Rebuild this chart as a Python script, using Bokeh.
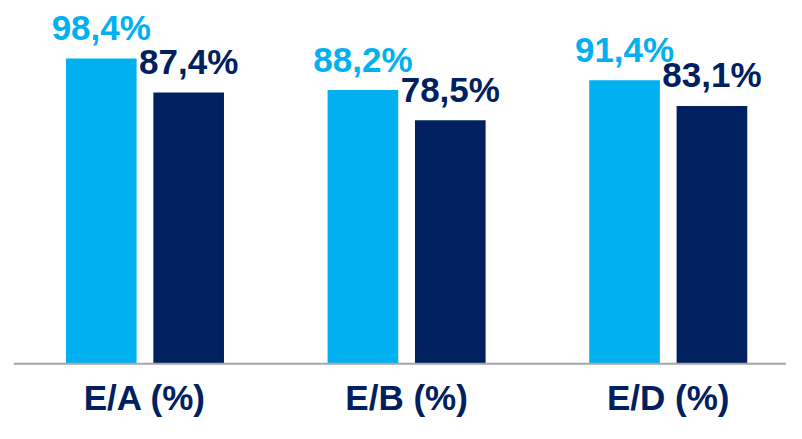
from bokeh.plotting import figure
from bokeh.models import ColumnDataSource, Range1d, Span
from bokeh.transform import dodge
from bokeh.core.properties import value
from bokeh.embed import file_html
from bokeh.resources import INLINE

categories = ["E/A (%)", "E/B (%)", "E/D (%)"]
series_a = [98.4, 88.2, 91.4]
series_b = [87.4, 78.5, 83.1]
labels_a = ["98,4%", "88,2%", "91,4%"]
labels_b = ["87,4%", "78,5%", "83,1%"]

LIGHT = "#00B0F0"
DARK = "#002060"
FONT = "Liberation Sans"

xs = list(range(len(categories)))
src = ColumnDataSource(dict(x=xs, a=series_a, b=series_b, la=labels_a, lb=labels_b,
                            cat=categories, zero=[0] * len(xs)))

p = figure(width=786, height=423, output_backend="svg", toolbar_location=None,
           x_range=Range1d(-0.5025, 2.452), y_range=Range1d(-19.24, 117.08),
           min_border_left=13, min_border_right=0, min_border_top=0, min_border_bottom=0)
p.axis.visible = False
p.grid.visible = False
p.outline_line_color = None

p.vbar(x=dodge("x", -0.167, range=p.x_range), top="a", width=0.27, bottom=0,
       source=src, color=LIGHT, line_color=None)
p.vbar(x=dodge("x", 0.167, range=p.x_range), top="b", width=0.27, bottom=0,
       source=src, color=DARK, line_color=None)

p.add_layout(Span(location=0, dimension="width", line_color="#A6A6A6", line_width=2))

p.text(x=dodge("x", -0.167, range=p.x_range), y="a", text="la", source=src,
       text_align="center", text_baseline="alphabetic", y_offset=-31,
       text_font=value(FONT), text_font_style="bold", text_font_size="35px",
       text_color=LIGHT)
p.text(x=dodge("x", 0.167, range=p.x_range), y="b", text="lb", source=src,
       text_align="center", text_baseline="alphabetic", y_offset=-31,
       text_font=value(FONT), text_font_style="bold", text_font_size="35px",
       text_color=DARK)
p.text(x="x", y="zero", text="cat", source=src,
       text_align="center", text_baseline="alphabetic", y_offset=34,
       text_font=value(FONT), text_font_style="bold", text_font_size="35px",
       text_color=DARK)

open("out.html", "w").write(file_html(p, INLINE))
